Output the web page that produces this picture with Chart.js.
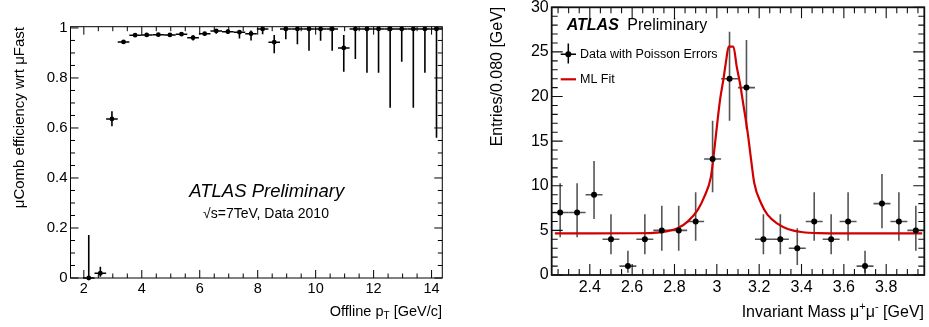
<!DOCTYPE html>
<html>
<head>
<meta charset="utf-8">
<script src="https://cdn.jsdelivr.net/npm/chart.js@4.4.1/dist/chart.umd.min.js"></script>
<style>
  html, body { margin: 0; padding: 0; background: #fff; }
  #wrap { position: relative; width: 929px; height: 327px; overflow: hidden; }
  canvas { position: absolute; top: 0; }
  #eff { left: 0; }
  #mass { left: 470px; }
</style>
</head>
<body>
<div id="wrap">
  <canvas id="eff" width="470" height="327"></canvas>
  <canvas id="mass" width="459" height="327"></canvas>
</div>
<script>
'use strict';

// left panel: muComb efficiency vs offline pT
const effPt = [2.17, 2.57, 2.97, 3.37, 3.77, 4.17, 4.57, 4.97, 5.37, 5.77, 6.17, 6.57, 6.97, 7.37, 7.77, 8.17,
  8.57, 8.97, 9.37, 9.77, 10.17, 10.57, 10.97, 11.37, 11.77, 12.17, 12.57, 12.97, 13.37, 13.77, 14.17];
const effVal = [0, 0.019, 0.636, 0.944, 0.971, 0.972, 0.973, 0.972, 0.975, 0.961, 0.977, 0.988, 0.985, 0.983, 0.977, 0.996,
  0.943, 0.996, 0.996, 0.996, 0.996, 0.996, 0.92, 0.996, 0.996, 0.996, 0.996, 0.996, 0.996, 0.996, 0.996];
const effLo = [0, 0.005, 0.607, 0.938, 0.965, 0.966, 0.968, 0.966, 0.968, 0.95, 0.97, 0.977, 0.976, 0.958, 0.95, 0.975,
  0.899, 0.955, 0.935, 0.909, 0.949, 0.909, 0.825, 0.876, 0.821, 0.821, 0.681, 0.865, 0.681, 0.821, 0.561];
const effHi = [0.172, 0.045, 0.667, 0.95, 0.977, 0.978, 0.978, 0.978, 0.981, 0.971, 0.984, 0.995, 0.994, 0.992, 0.99, 1.0,
  0.972, 1.0, 1.0, 1.0, 1.0, 1.0, 0.972, 1.0, 1.0, 1.0, 1.0, 1.0, 1.0, 1.0, 1.0];
const effHalfBin = 0.2;
const effXTicks = [2, 4, 6, 8, 10, 12, 14];
const effXLabels = ['2', '4', '6', '8', '10', '12', '14'];
const effYTicks = [0, 0.2, 0.4, 0.6, 0.8, 1];
const effYLabels = ['0', '0.2', '0.4', '0.6', '0.8', '1'];

// right panel: J/psi mass peak
const massX = [2.26, 2.34, 2.42, 2.50, 2.58, 2.66, 2.74, 2.82, 2.90, 2.98, 3.06, 3.14, 3.22, 3.30, 3.38, 3.46,
  3.54, 3.62, 3.70, 3.78, 3.86, 3.94];
const counts = [7, 7, 9, 4, 1, 4, 5, 5, 6, 13, 22, 21, 4, 4, 3, 6, 4, 6, 1, 8, 6, 5];
const cntLo = [4.22, 4.22, 6.28, 2.32, 0.26, 2.32, 2.73, 2.73, 3.85, 9.26, 17.3, 16.32, 2.32, 2.32, 1.12, 3.85,
  2.32, 3.85, 0.26, 5.23, 3.85, 2.73];
const cntHi = [10.27, 10.27, 12.78, 6.8, 2.73, 6.8, 7.77, 7.77, 9.26, 17.3, 27.27, 26.34, 6.8, 6.8, 5.23, 9.26,
  6.8, 9.26, 2.73, 11.32, 9.26, 7.77];
const massHalfBin = 0.04;
const fitX = [2.235, 2.40, 2.60, 2.70, 2.76, 2.815, 2.862, 2.91, 2.941, 2.972, 2.985, 3.015, 3.032, 3.045, 3.056,
  3.078, 3.094, 3.110, 3.122, 3.146, 3.162, 3.177, 3.209, 3.24, 3.288, 3.335, 3.40, 3.48, 3.60, 3.80, 3.97];
const fitY = [4.67, 4.67, 4.68, 4.72, 4.88, 5.23, 5.98, 7.3, 8.78, 11.0, 13.4, 19.6, 22.05, 24.2, 25.6,
  25.6, 23.35, 21.4, 19.6, 15.9, 12.9, 10.28, 8.04, 6.73, 5.72, 5.16, 4.82, 4.69, 4.67, 4.67, 4.67];
const massXTicks = [2.4, 2.6, 2.8, 3.0, 3.2, 3.4, 3.6, 3.8];
const massXLabels = ['2.4', '2.6', '2.8', '3', '3.2', '3.4', '3.6', '3.8'];
const massYTicks = [0, 5, 10, 15, 20, 25, 30];
const massYLabels = ['0', '5', '10', '15', '20', '25', '30'];

const FONT = "'Liberation Sans', Arial, Helvetica, sans-serif";

function errBars(xs, ys, lo, hi, half, color, width) {
  return {
    id: 'errBars',
    beforeDatasetsDraw(chart) {
      const { ctx, scales: { x, y } } = chart;
      ctx.save();
      ctx.strokeStyle = color;
      ctx.lineWidth = width;
      xs.forEach((xv, i) => {
        const px = x.getPixelForValue(xv);
        const py = y.getPixelForValue(ys[i]);
        ctx.beginPath();
        ctx.moveTo(px, y.getPixelForValue(lo[i]));
        ctx.lineTo(px, y.getPixelForValue(hi[i]));
        ctx.moveTo(x.getPixelForValue(xv - half), py);
        ctx.lineTo(x.getPixelForValue(xv + half), py);
        ctx.stroke();
      });
      ctx.restore();
    }
  };
}

// ROOT style frame with inner ticks on all four sides
function frameTicks(o) {
  return {
    id: 'frameTicks',
    afterDatasetsDraw(chart) {
      const { ctx, chartArea: a, scales } = chart;
      ctx.save();
      ctx.strokeStyle = o.color;
      ctx.lineWidth = o.tickWidth;
      const axis = (scale, sub, horiz) => {
        const vals = scale.ticks.map(t => t.value);
        const step = (vals[1] - vals[0]) / sub;
        let v = vals[0] - step * Math.floor((vals[0] - scale.min) / step + 1e-9);
        ctx.beginPath();
        for (; v <= scale.max + 1e-9; v += step) {
          const k = (v - vals[0]) / step;
          const len = Math.abs(k / sub - Math.round(k / sub)) < 1e-6 ? o.major : o.minor;
          const p = scale.getPixelForValue(v);
          if (horiz) {
            ctx.moveTo(p, a.bottom); ctx.lineTo(p, a.bottom - len);
            ctx.moveTo(p, a.top); ctx.lineTo(p, a.top + len);
          } else {
            ctx.moveTo(a.left, p); ctx.lineTo(a.left + len, p);
            ctx.moveTo(a.right, p); ctx.lineTo(a.right - len, p);
          }
        }
        ctx.stroke();
      };
      axis(scales.x, o.subX, true);
      axis(scales.y, o.subY, false);
      ctx.lineWidth = o.frameWidth;
      ctx.strokeRect(a.left, a.top, a.right - a.left, a.bottom - a.top);
      ctx.restore();
    }
  };
}

function runs(ctx, parts, x, y, align) {
  let w = 0;
  parts.forEach(p => { ctx.font = p.font; w += ctx.measureText(p.t).width; });
  let cx = align === 'right' ? x - w : align === 'center' ? x - w / 2 : x;
  ctx.textAlign = 'left';
  ctx.textBaseline = 'middle';
  parts.forEach(p => {
    ctx.font = p.font;
    ctx.fillText(p.t, cx, y + (p.dy || 0));
    cx += ctx.measureText(p.t).width;
  });
}

function vTitle(ctx, text, font, x, top) {
  ctx.save();
  ctx.translate(x, top);
  ctx.rotate(-Math.PI / 2);
  ctx.font = font;
  ctx.textAlign = 'right';
  ctx.textBaseline = 'middle';
  ctx.fillText(text, 0, 0);
  ctx.restore();
}

function axisOpts(min, max, ticks, labels, size, fontSize, pad, horiz) {
  return {
    type: 'linear', min, max,
    grid: { display: false, drawTicks: false },
    border: { display: false },
    afterBuildTicks: s => { s.ticks = ticks.map(v => ({ value: v })); },
    afterFit: s => {
      if (horiz) { s.height = size; s.paddingLeft = 0; s.paddingRight = 0; }
      else { s.width = size; s.paddingTop = 0; s.paddingBottom = 0; }
    },
    ticks: {
      font: { family: FONT, size: fontSize }, color: '#000', padding: pad,
      maxRotation: 0, autoSkip: false, callback: (v, i) => labels[i]
    }
  };
}

new Chart(document.getElementById('eff'), {
  type: 'scatter',
  data: {
    datasets: [{
      data: effPt.map((x, i) => ({ x, y: effVal[i] })),
      pointRadius: 2.4, pointHoverRadius: 2.4, pointBorderWidth: 0,
      pointBackgroundColor: '#000', clip: false
    }]
  },
  options: {
    animation: false, responsive: false, events: [],
    layout: { padding: { left: 0, right: 27.7, top: 26.7, bottom: 0 } },
    plugins: { legend: { display: false }, tooltip: { enabled: false } },
    scales: {
      x: axisOpts(1.54, 14.37, effXTicks, effXLabels, 49, 14.5, 2.5, true),
      y: axisOpts(0, 1.005, effYTicks, effYLabels, 70.5, 15, 3, false)
    }
  },
  plugins: [
    errBars(effPt, effVal, effLo, effHi, effHalfBin, '#000', 1.6),
    frameTicks({ color: '#000', tickWidth: 1, frameWidth: 1, major: 8, minor: 4.5, subX: 4, subY: 4 }),
    {
      id: 'effText',
      afterDraw(chart) {
        const ctx = chart.ctx;
        ctx.save();
        ctx.fillStyle = '#000';
        vTitle(ctx, 'μComb efficiency wrt μFast', '15px ' + FONT, 20, 27);
        runs(ctx, [
          { t: 'Offline p', font: '14.5px ' + FONT },
          { t: 'T', font: '10px ' + FONT, dy: 5 },
          { t: ' [GeV/c]', font: '14.5px ' + FONT }
        ], 442, 311.5, 'right');
        runs(ctx, [{ t: 'ATLAS Preliminary', font: 'italic 18.5px ' + FONT }], 266.7, 191.7, 'center');
        runs(ctx, [{ t: '√s=7TeV, Data 2010', font: '14px ' + FONT }], 266, 214, 'center');
        ctx.restore();
      }
    }
  ]
});

new Chart(document.getElementById('mass'), {
  type: 'scatter',
  data: {
    datasets: [{
      data: massX.map((x, i) => ({ x, y: counts[i] })),
      pointRadius: 3, pointHoverRadius: 3, pointBorderWidth: 0,
      pointBackgroundColor: '#000', clip: false
    }, {
      type: 'line',
      data: fitX.map((x, i) => ({ x, y: fitY[i] })),
      borderColor: '#d10000', borderWidth: 2.2, pointRadius: 0, fill: false,
      cubicInterpolationMode: 'monotone'
    }]
  },
  options: {
    animation: false, responsive: false, events: [],
    layout: { padding: { left: 0, right: 4.7, top: 7.3, bottom: 0 } },
    plugins: { legend: { display: false }, tooltip: { enabled: false } },
    scales: {
      x: axisOpts(2.22, 3.98, massXTicks, massXLabels, 52, 16, 2.5, true),
      y: axisOpts(0, 30, massYTicks, massYLabels, 81.7, 16, 3, false)
    }
  },
  plugins: [
    errBars(massX, counts, cntLo, cntHi, massHalfBin, '#555', 1.6),
    frameTicks({ color: '#111', tickWidth: 1.1, frameWidth: 1.8, major: 11, minor: 6, subX: 4, subY: 5 }),
    {
      id: 'massText',
      afterDraw(chart) {
        const ctx = chart.ctx;
        ctx.save();
        ctx.fillStyle = '#000';
        vTitle(ctx, 'Entries/0.080 [GeV]', '16px ' + FONT, 27.3, 6.7);
        runs(ctx, [
          { t: 'Invariant Mass μ', font: '16px ' + FONT },
          { t: '+', font: '11px ' + FONT, dy: -6 },
          { t: 'μ', font: '16px ' + FONT },
          { t: '-', font: '11px ' + FONT, dy: -6 },
          { t: ' [GeV]', font: '16px ' + FONT }
        ], 454, 313, 'right');
        runs(ctx, [{ t: 'ATLAS', font: 'italic bold 16px ' + FONT }], 96.7, 25.7, 'left');
        runs(ctx, [{ t: 'Preliminary', font: '16px ' + FONT }], 157.3, 25.7, 'left');
        // legend
        ctx.strokeStyle = '#000';
        ctx.lineWidth = 1.5;
        ctx.beginPath();
        ctx.moveTo(90.7, 54.3); ctx.lineTo(106, 54.3);
        ctx.moveTo(98.3, 43.5); ctx.lineTo(98.3, 63.5);
        ctx.stroke();
        ctx.beginPath();
        ctx.arc(98.3, 54.3, 3, 0, 2 * Math.PI);
        ctx.fill();
        ctx.strokeStyle = '#d10000';
        ctx.lineWidth = 2.2;
        ctx.beginPath();
        ctx.moveTo(90.7, 79.3); ctx.lineTo(106, 79.3);
        ctx.stroke();
        runs(ctx, [{ t: 'Data with Poisson Errors', font: '12.5px ' + FONT }], 110, 54.3, 'left');
        runs(ctx, [{ t: 'ML Fit', font: '12.5px ' + FONT }], 110, 79.3, 'left');
        ctx.restore();
      }
    }
  ]
});
</script>
</body>
</html>
